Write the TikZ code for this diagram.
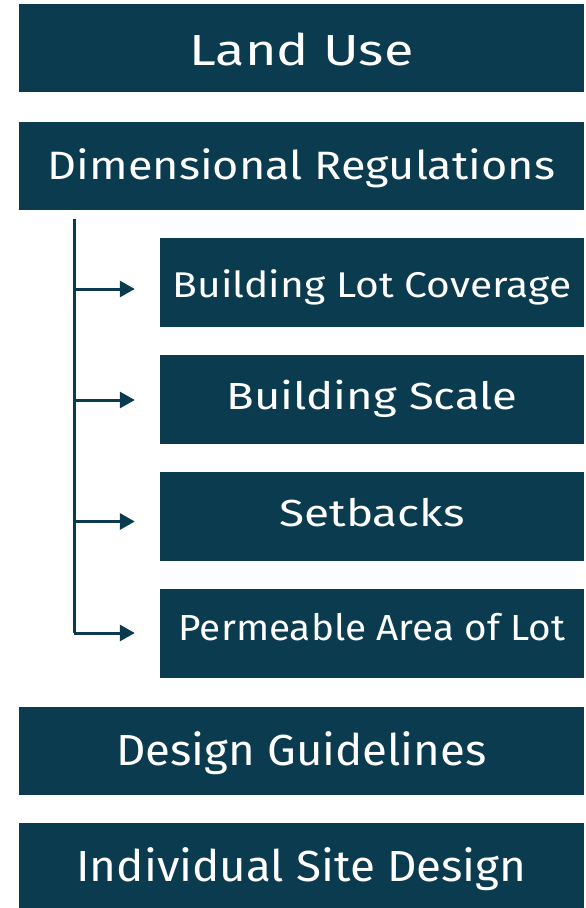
\documentclass[tikz,border=0pt]{standalone}
\usepackage{fontspec}
\setmainfont{Fira Sans}
\usetikzlibrary{arrows.meta}
\definecolor{teal}{HTML}{0A3B4E}
\newcommand\boxtxt[3]{\fontsize{#1}{#1}\selectfont\scalebox{#2}[1]{#3}}
\begin{document}
\begin{tikzpicture}[x=1pt,y=-1pt,
  bigbox/.style={fill=teal,text=white,minimum width=565pt,minimum height=88pt,inner sep=0pt,text depth=0pt},
  subbox/.style={fill=teal,text=white,minimum width=424pt,minimum height=89pt,inner sep=0pt,text depth=0pt},
  conn/.style={draw=teal,line width=3pt},
  arr/.style={conn,-{Triangle[length=15pt,width=16pt]},shorten >=25pt}]
\useasboundingbox (0,0) rectangle (586,908);
\node[bigbox,text height=34pt] (lu) at (301.5,48) {\boxtxt{43.5}{1.24}{Land Use}};
\node[bigbox,text height=26pt] (dr) at (301.5,166) {\boxtxt{39.6}{1.137}{Dimensional Regulations}};
\node[subbox,text height=29.6pt] (blc) at (372,282.5) {\boxtxt{35.8}{1.138}{Building Lot Coverage}};
\node[subbox,text height=19.6pt] (bs) at (372,399.5) {\boxtxt{37.7}{1.206}{Building Scale}};
\node[subbox,text height=19pt] (sb) at (372,516.5) {\boxtxt{37.7}{1.22}{Setbacks}};
\node[subbox,text height=13pt] (pal) at (372,633.5) {\boxtxt{36.3}{1.067}{Permeable Area of Lot}};
\node[bigbox,text height=30pt] (dg) at (301.5,750.5) {\boxtxt{43.5}{1.048}{Design Guidelines}};
\node[bigbox,minimum height=85pt,text height=32.4pt] (isd) at (301.5,865.5) {\boxtxt{43.5}{1.052}{Individual Site Design}};
\coordinate (top) at (74,219);
\coordinate (j1) at (74,289);
\coordinate (j2) at (74,400);
\coordinate (j3) at (74,521.5);
\coordinate (j4) at (74,633);
\draw[conn] (top) -- (j4);
\draw[arr] (j1) -- (j1 -| blc.west);
\draw[arr] (j2) -- (j2 -| bs.west);
\draw[arr] (j3) -- (j3 -| sb.west);
\draw[arr] (j4) -- (j4 -| pal.west);
\end{tikzpicture}
\end{document}
